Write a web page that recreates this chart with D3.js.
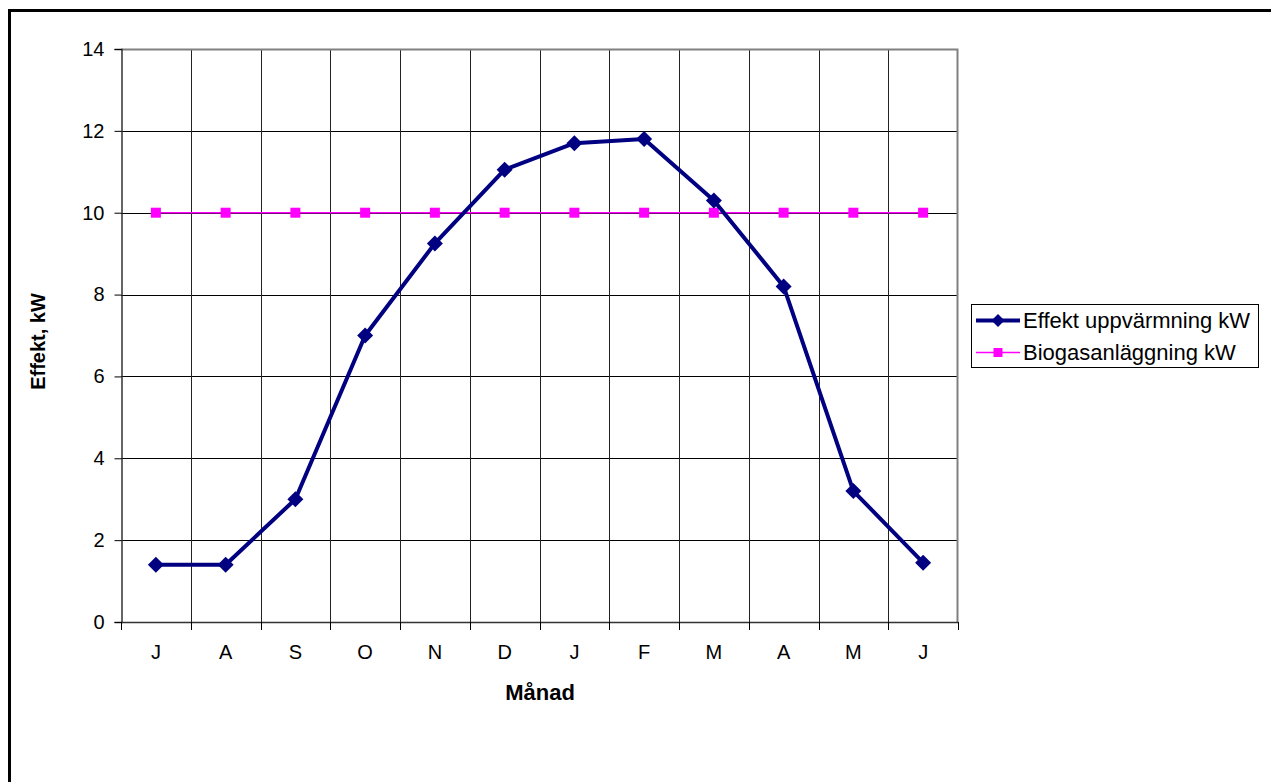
<!DOCTYPE html>
<html>
<head>
<meta charset="utf-8">
<script src="https://cdn.jsdelivr.net/npm/d3@7"></script>
<style>
  html, body { margin: 0; padding: 0; background: #fff; }
  svg { display: block; font-family: "Liberation Sans", Arial, sans-serif; }
</style>
</head>
<body>
<svg id="chart" width="1271" height="782"></svg>
<script>
// Months from July to June
const months = ["J", "A", "S", "O", "N", "D", "J", "F", "M", "A", "M", "J"];
// Heating power demand, kW
const heating = [1.4, 1.4, 3.0, 7.0, 9.25, 11.05, 11.7, 11.8, 10.3, 8.2, 3.2, 1.45];
// Biogas plant output, kW
const biogas = [10, 10, 10, 10, 10, 10, 10, 10, 10, 10, 10, 10];
const yTicks = [0, 2, 4, 6, 8, 10, 12, 14];
const seriesNames = ["Effekt uppvärmning kW", "Biogasanläggning kW"];

const FONT = "Liberation Sans, Arial, sans-serif";
const svg = d3.select("#chart");
const plot = { left: 121, right: 958, top: 49, bottom: 622 };

// outer chart frame (runs off the right and bottom edges)
svg.append("rect")
  .attr("x", 9.5).attr("y", 10.5)
  .attr("width", 1300).attr("height", 800)
  .attr("fill", "none").attr("stroke", "#000").attr("stroke-width", 3);

const idx = months.map((_, i) => i);
const x = d3.scaleBand().domain(idx).range([plot.left, plot.right]).padding(0);
const y = d3.scaleLinear().domain([0, 14]).range([plot.bottom, plot.top]);
const cx = i => x(i) + x.bandwidth() / 2;

// square-diamond marker path of given half-diagonal
const diamondPath = r => `M0,${-r}L${r},0L0,${r}L${-r},0Z`;

// horizontal gridlines
svg.append("g").selectAll("line").data(yTicks.filter(t => t > 0 && t < 14)).join("line")
  .attr("x1", plot.left).attr("x2", plot.right)
  .attr("y1", d => Math.round(y(d)) + 0.5).attr("y2", d => Math.round(y(d)) + 0.5)
  .attr("stroke", "#000").attr("stroke-width", 1);

// vertical gridlines at category boundaries
svg.append("g").selectAll("line").data(idx.slice(1)).join("line")
  .attr("x1", d => Math.round(x(d)) + 0.5).attr("x2", d => Math.round(x(d)) + 0.5)
  .attr("y1", plot.top).attr("y2", plot.bottom)
  .attr("stroke", "#222").attr("stroke-width", 1);

// plot border top & right
svg.append("path")
  .attr("d", `M${plot.left},${plot.top + 0.5}H${plot.right - 0.5}V${plot.bottom}`)
  .attr("fill", "none").attr("stroke", "#808080").attr("stroke-width", 2);

// y axis
const yAxis = svg.append("g")
  .attr("transform", `translate(${plot.left + 0.5},0)`)
  .call(d3.axisLeft(y).tickValues(yTicks).tickSize(7).tickPadding(10));
yAxis.select(".domain").attr("stroke", "#333").attr("stroke-width", 1.5);
yAxis.selectAll(".tick line").attr("stroke", "#000");
yAxis.selectAll("text").attr("font-size", 20).attr("fill", "#000").attr("font-family", FONT);

// x axis
const xAxis = svg.append("g")
  .attr("transform", `translate(0,${plot.bottom + 0.5})`)
  .call(d3.axisBottom(x).tickFormat(i => months[i]).tickSize(0).tickPadding(22));
xAxis.select(".domain").remove();
xAxis.selectAll("text").attr("font-size", 20).attr("fill", "#000").attr("font-family", FONT);
svg.append("line")
  .attr("x1", plot.left).attr("x2", plot.right)
  .attr("y1", plot.bottom + 0.5).attr("y2", plot.bottom + 0.5)
  .attr("stroke", "#333").attr("stroke-width", 1.5);
svg.append("g").selectAll("line").data(d3.range(13)).join("line")
  .attr("x1", d => Math.round(plot.left + d * x.bandwidth()) + 0.5)
  .attr("x2", d => Math.round(plot.left + d * x.bandwidth()) + 0.5)
  .attr("y1", plot.bottom).attr("y2", plot.bottom + 8)
  .attr("stroke", "#000");

// axis titles
svg.append("text")
  .attr("x", 540).attr("y", 700)
  .attr("text-anchor", "middle").attr("font-size", 22).attr("font-weight", "bold")
  .text("Månad");
svg.append("text")
  .attr("transform", `translate(45,${(plot.top + plot.bottom) / 2 + 6}) rotate(-90)`)
  .attr("text-anchor", "middle").attr("font-size", 20).attr("font-weight", "bold")
  .text("Effekt, kW");

const line = d3.line().x((d, i) => cx(i)).y(d => y(d));

// biogas series
svg.append("path").datum(biogas)
  .attr("d", line).attr("fill", "none").attr("stroke", "#FF00FF").attr("stroke-width", 1.5);
svg.append("g").selectAll("rect").data(biogas).join("rect")
  .attr("x", (d, i) => cx(i) - 5).attr("y", d => y(d) - 5)
  .attr("width", 10).attr("height", 10).attr("fill", "#FF00FF");

// heating series
svg.append("path").datum(heating)
  .attr("d", line).attr("fill", "none").attr("stroke", "#000080")
  .attr("stroke-width", 4).attr("stroke-linejoin", "round");
svg.append("g").selectAll("path").data(heating).join("path")
  .attr("transform", (d, i) => `translate(${cx(i)},${y(d)})`)
  .attr("d", diamondPath(8))
  .attr("fill", "#000080");

// legend
const lg = svg.append("g");
lg.append("rect")
  .attr("x", 971.5).attr("y", 304.5).attr("width", 287).attr("height", 63)
  .attr("fill", "#fff").attr("stroke", "#000").attr("stroke-width", 1);
const rows = [
  { name: seriesNames[0], color: "#000080", y: 320.5 },
  { name: seriesNames[1], color: "#FF00FF", y: 352.5 }
];
rows.forEach((r, k) => {
  lg.append("line")
    .attr("x1", 976).attr("x2", 1020).attr("y1", r.y).attr("y2", r.y)
    .attr("stroke", r.color).attr("stroke-width", k === 0 ? 4 : 1.5);
  if (k === 0) {
    lg.append("path").attr("transform", `translate(998,${r.y})`)
      .attr("d", diamondPath(6.5)).attr("fill", r.color);
  } else {
    lg.append("rect").attr("x", 993.5).attr("y", r.y - 4.5)
      .attr("width", 9).attr("height", 9).attr("fill", r.color);
  }
  lg.append("text")
    .attr("x", 1023).attr("y", r.y).attr("dy", "0.35em")
    .attr("font-size", 22).attr("font-family", FONT).text(r.name);
});
</script>
</body>
</html>
